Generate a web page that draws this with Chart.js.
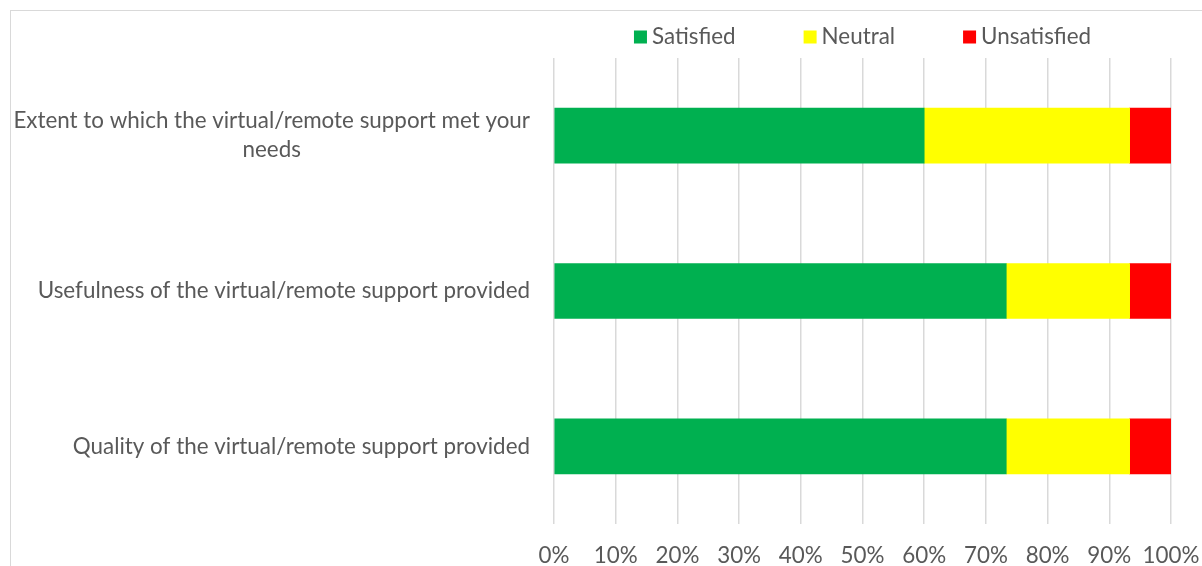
<!DOCTYPE html>
<html>
<head>
<meta charset="utf-8">
<title>Virtual/remote support satisfaction</title>
<script src="https://cdn.jsdelivr.net/npm/chart.js@4.4.1/dist/chart.umd.min.js"></script>
<style>
    html, body { margin: 0; padding: 0; overflow: hidden; background: #fff; }
    .frame { position: absolute; left: 10px; top: 10px; width: 1400px; height: 800px; border: 1px solid #d9d9d9; }
    #supportChart { position: absolute; left: 0; top: 0; }
</style>
</head>
<body>
<div class="frame"></div>
<canvas id="supportChart" width="1202" height="566"></canvas>
<script>
const categories = [
    ['Extent to which the virtual/remote support met your', 'needs'],
    'Usefulness of the virtual/remote support provided',
    'Quality of the virtual/remote support provided'
];
const seriesNames = ['Satisfied', 'Neutral', 'Unsatisfied'];
const satisfied = [60, 73.3, 73.3];
const neutral = [33.3, 20, 20];
const unsatisfied = [6.7, 6.7, 6.7];
const xTickValues = [0, 10, 20, 30, 40, 50, 60, 70, 80, 90, 100];

const TEXT = '#595959';
const GRID = '#d9d9d9';
const FONT_FAMILY = 'Lato, "Open Sans", sans-serif';
const FONT_SIZE = 22.4;
const colors = ['#00b050', '#ffff00', '#ff0000'];

// category labels: block right-aligned to the axis, lines centred inside the block
const categoryLabels = {
    id: 'categoryLabels',
    afterDraw(chart) {
        const { ctx, chartArea } = chart;
        const y = chart.scales.y;
        ctx.save();
        ctx.font = `${FONT_SIZE}px ${FONT_FAMILY}`;
        ctx.fillStyle = TEXT;
        ctx.textAlign = 'center';
        ctx.textBaseline = 'middle';
        chart.data.labels.forEach((label, i) => {
            const lines = [].concat(label);
            const widest = Math.max(...lines.map(l => ctx.measureText(l).width));
            const cx = chartArea.left - 24 - widest / 2;
            const cy = y.getPixelForValue(i);
            lines.forEach((line, j) => {
                ctx.fillText(line, cx, cy + (j - (lines.length - 1) / 2) * 29);
            });
        });
        ctx.restore();
    }
};

// legend row centred over the plot area
const topLegend = {
    id: 'topLegend',
    afterDraw(chart) {
        const { ctx, chartArea } = chart;
        const box = 13, gap = 5, spacing = 68, cy = 37;
        ctx.save();
        ctx.font = `${FONT_SIZE}px ${FONT_FAMILY}`;
        ctx.textBaseline = 'middle';
        ctx.textAlign = 'left';
        const items = chart.data.datasets.map(ds => ({
            text: ds.label,
            color: ds.backgroundColor,
            w: box + gap + ctx.measureText(ds.label).width
        }));
        const total = items.reduce((s, it) => s + it.w, 0) + spacing * (items.length - 1);
        let x = (chartArea.left + chartArea.right) / 2 - total / 2;
        items.forEach(it => {
            ctx.fillStyle = it.color;
            ctx.fillRect(x, cy - box / 2, box, box);
            ctx.fillStyle = TEXT;
            ctx.fillText(it.text, x + box + gap, cy);
            x += it.w + spacing;
        });
        ctx.restore();
    }
};

const seriesValues = [satisfied, neutral, unsatisfied];

new Chart(document.getElementById('supportChart'), {
    type: 'bar',
    data: {
        labels: categories,
        datasets: seriesNames.map((name, i) => ({
            label: name,
            data: seriesValues[i],
            backgroundColor: colors[i],
            borderWidth: 0,
            barThickness: 55
        }))
    },
    options: {
        indexAxis: 'y',
        responsive: false,
        animation: false,
        layout: { padding: { top: 58, right: 31, left: 0, bottom: 0 } },
        plugins: {
            legend: { display: false },
            tooltip: { enabled: false }
        },
        scales: {
            x: {
                stacked: true,
                min: 0,
                max: 100,
                afterBuildTicks: scale => { scale.ticks = xTickValues.map(v => ({ value: v })); },
                afterFit: scale => {
                    scale.height = 42;
                    scale.paddingLeft = 0;
                    scale.paddingRight = 0;
                },
                grid: { color: GRID, lineWidth: 1.5, drawTicks: false },
                border: { display: false },
                ticks: {
                    color: TEXT,
                    padding: 18,
                    autoSkip: false,
                    minRotation: 0,
                    maxRotation: 0,
                    font: { family: FONT_FAMILY, size: FONT_SIZE },
                    callback: v => v + '%'
                }
            },
            y: {
                stacked: true,
                afterFit: scale => { scale.width = 554; },
                grid: { display: false },
                border: { display: false },
                ticks: { display: false }
            }
        }
    },
    plugins: [categoryLabels, topLegend]
});
</script>
</body>
</html>
